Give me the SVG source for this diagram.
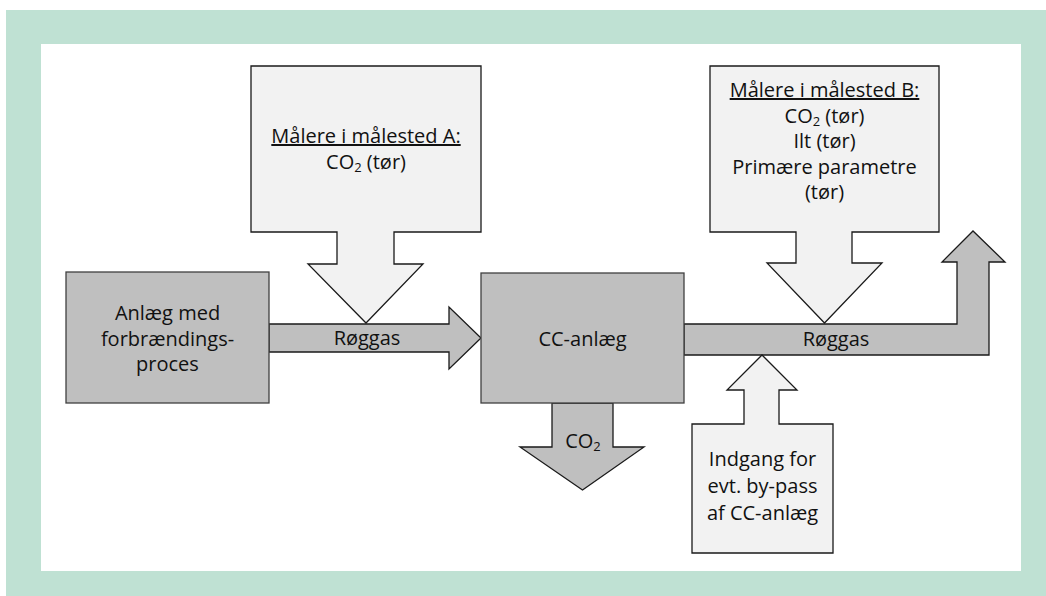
<svg xmlns="http://www.w3.org/2000/svg" width="1046" height="596" viewBox="0 0 1046 596">
  <style>
    .frame { fill: #bfe1d3; }
    .panel { fill: #ffffff; }
    .proc { fill: #bfbfbf; stroke: #404040; stroke-width: 1.3; }
    .flow { fill: #bfbfbf; stroke: #1a1a1a; stroke-width: 1.3; stroke-linejoin: miter; }
    .note { fill: #f2f2f2; stroke: #1a1a1a; stroke-width: 1.3; stroke-linejoin: miter; }
    text { font-family: "Open Sans", "Liberation Sans", sans-serif; font-size: 20px; fill: #111111; text-anchor: middle; }
    .u { text-decoration: underline; }
    .sub { font-size: 13px; }
  </style>

  <!-- framed background -->
  <rect class="frame" x="6" y="10" width="1040" height="586"/>
  <rect class="panel" x="41" y="44" width="980" height="527"/>

  <!-- flow arrows between the process blocks -->
  <g id="connectors">
    <g id="flue-gas-in">
      <polygon class="flow" points="269,324 449,324 449,307 481,338 449,369 449,352 269,352"/>
      <text x="367" y="345">Røggas</text>
    </g>
    <g id="co2-out">
      <polygon class="flow" points="552,403 613,403 613,447 644,447 582.5,490 520,447 552,447"/>
      <text x="583" y="448">CO<tspan class="sub" dy="3">2</tspan></text>
    </g>
    <g id="flue-gas-out">
      <polygon class="flow" points="684,324 957,324 957,262 942,262 973,231 1005,262 989,262 989,355 684,355"/>
      <text x="836" y="346">Røggas</text>
    </g>
  </g>

  <g id="combustion-plant">
    <rect class="proc" x="66" y="272" width="203" height="131"/>
    <text x="167.5" y="320">Anlæg med</text>
    <text x="167.5" y="345.5">forbrændings-</text>
    <text x="167.5" y="371">proces</text>
  </g>

  <g id="cc-plant">
    <rect class="proc" x="481" y="273" width="203" height="130"/>
    <text x="582.5" y="346">CC-anlæg</text>
  </g>

  <g id="point-a">
    <polygon class="note" points="251,66 481,66 481,232 394,232 394,264 423,264 366,323 308,264 337,264 337,232 251,232"/>
    <text class="u" x="366" y="143">Målere i målested A:</text>
    <text x="366" y="169">CO<tspan class="sub" dy="3">2</tspan><tspan dy="-3"> (tør)</tspan></text>
  </g>

  <g id="point-b">
    <polygon class="note" points="710,66 939,66 939,232 852,232 852,263 882,263 824.5,323 767,263 796,263 796,232 710,232"/>
    <text class="u" x="824.5" y="97">Målere i målested B:</text>
    <text x="824.5" y="122.5">CO<tspan class="sub" dy="3">2</tspan><tspan dy="-3"> (tør)</tspan></text>
    <text x="824.5" y="148">Ilt (tør)</text>
    <text x="824.5" y="173.5">Primære parametre</text>
    <text x="824.5" y="199">(tør)</text>
  </g>

  <g id="bypass-inlet">
    <polygon class="note" points="692,424 744,424 744,390 727,390 762,355 797,390 779,390 779,424 833,424 833,553 692,553"/>
    <text x="762.5" y="466">Indgang for</text>
    <text x="762.5" y="493">evt. by-pass</text>
    <text x="762.5" y="520">af CC-anlæg</text>
  </g>
</svg>
